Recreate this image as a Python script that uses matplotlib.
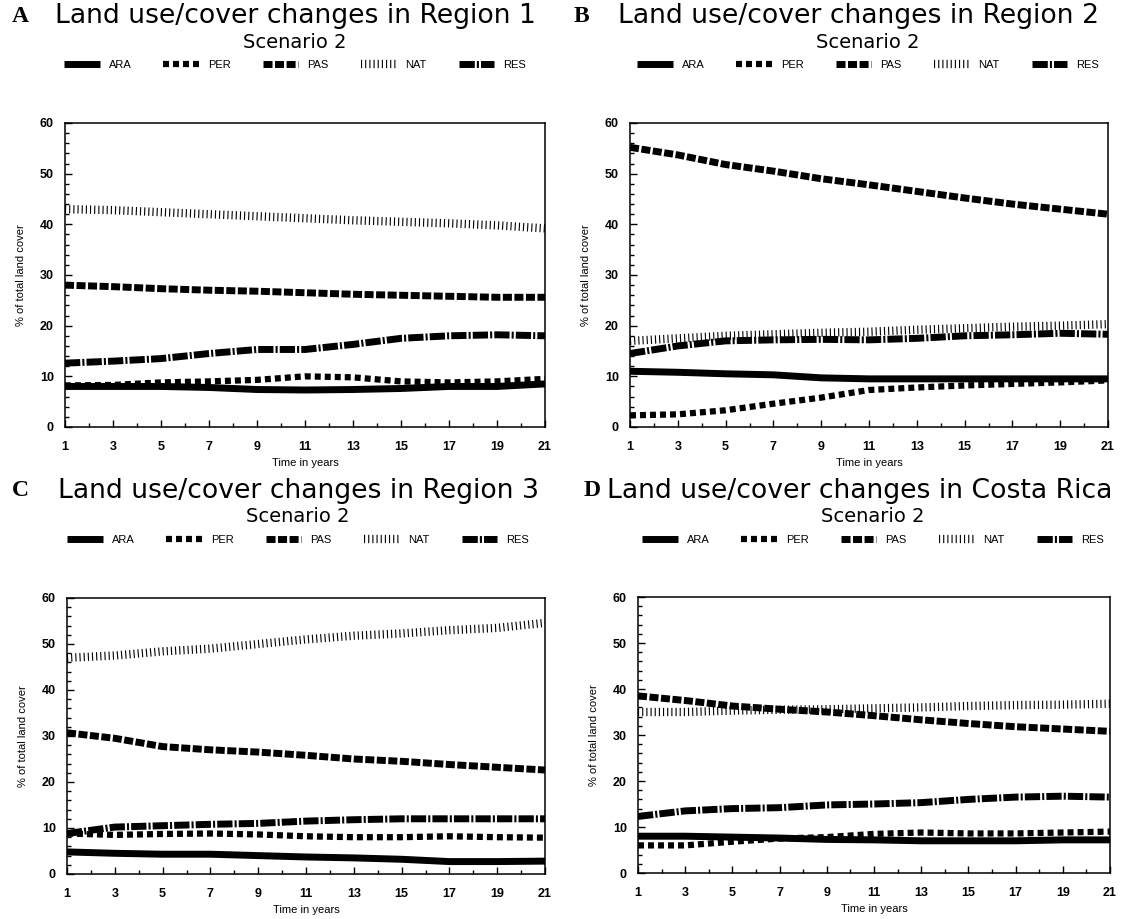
import numpy as np
import matplotlib
matplotlib.use("Agg")
import matplotlib.pyplot as plt
from matplotlib.ticker import MultipleLocator

plt.rcParams['font.family'] = ['Liberation Sans', 'DejaVu Sans']
plt.rcParams['lines.scale_dashes'] = False

years = [1, 3, 5, 7, 9, 11, 13, 15, 17, 19, 21]
categories = ['ARA', 'PER', 'PAS', 'NAT', 'RES']

# panel A - Region 1
r1_ara = [8.0, 8.0, 8.0, 7.8, 7.4, 7.3, 7.4, 7.6, 8.0, 8.0, 8.5]
r1_per = [8.2, 8.3, 8.8, 9.0, 9.3, 10.0, 9.8, 9.0, 8.8, 9.0, 9.5]
r1_pas = [28.0, 27.7, 27.3, 27.0, 26.8, 26.5, 26.2, 26.0, 25.8, 25.6, 25.6]
r1_nat = [43.0, 42.8, 42.4, 42.0, 41.6, 41.2, 40.8, 40.5, 40.2, 39.8, 39.2]
r1_res = [12.6, 13.0, 13.5, 14.5, 15.3, 15.3, 16.3, 17.5, 18.0, 18.2, 18.0]

# panel B - Region 2
r2_ara = [11.0, 10.8, 10.5, 10.3, 9.7, 9.5, 9.5, 9.5, 9.5, 9.5, 9.5]
r2_per = [2.3, 2.5, 3.3, 4.6, 5.8, 7.3, 7.8, 8.2, 8.5, 8.8, 9.2]
r2_pas = [55.2, 53.7, 51.8, 50.5, 49.0, 47.8, 46.5, 45.2, 44.0, 43.0, 42.0]
r2_nat = [17.0, 17.5, 18.0, 18.3, 18.6, 18.8, 19.2, 19.5, 19.8, 20.0, 20.3]
r2_res = [14.5, 16.0, 17.0, 17.2, 17.3, 17.2, 17.5, 18.0, 18.2, 18.5, 18.3]

# panel C - Region 3
r3_ara = [4.8, 4.5, 4.3, 4.3, 4.0, 3.7, 3.5, 3.2, 2.7, 2.7, 2.8]
r3_per = [8.8, 8.5, 8.7, 8.8, 8.6, 8.2, 8.0, 8.0, 8.2, 8.0, 7.9]
r3_pas = [30.7, 29.5, 27.7, 27.0, 26.5, 25.8, 25.0, 24.5, 23.8, 23.2, 22.6]
r3_nat = [47.0, 47.5, 48.4, 49.0, 50.0, 51.0, 51.8, 52.3, 53.0, 53.5, 54.6]
r3_res = [8.8, 10.2, 10.5, 10.8, 11.0, 11.5, 11.8, 12.0, 12.0, 12.0, 12.0]

# panel D - Costa Rica
cr_ara = [8.0, 8.0, 7.8, 7.6, 7.3, 7.2, 7.0, 7.0, 7.0, 7.2, 7.2]
cr_per = [6.0, 6.0, 6.8, 7.5, 7.8, 8.5, 8.8, 8.6, 8.6, 8.8, 9.0]
cr_pas = [38.5, 37.5, 36.3, 35.6, 35.0, 34.2, 33.3, 32.5, 31.8, 31.3, 30.8]
cr_nat = [35.0, 35.0, 35.3, 35.5, 35.6, 35.8, 36.0, 36.3, 36.5, 36.6, 36.8]
cr_res = [12.3, 13.5, 14.0, 14.2, 14.8, 15.0, 15.3, 16.0, 16.5, 16.7, 16.5]

styles = {
    'ARA': dict(lw=5.0, ls='-'),
    'PER': dict(lw=4.5, ls=(0, (4.3, 2.9))),
    'PAS': dict(lw=5.0, ls=(0, (6.5, 1.8))),
    'NAT': dict(lw=6.0, ls=(0, (0.8, 2.2))),
    'RES': dict(lw=5.0, ls=(0, (11, 1.5, 1.5, 1.5))),
}

W, H = 1128, 919
fig = plt.figure(figsize=(W / 100, H / 100), dpi=100)

def fx(px):
    return px / W

def fy(py):
    return 1 - py / H

def draw_panel(box, series, letter, title, letter_x, title_x, center_x, top):
    left, right, ytop, ybot = box
    ax = fig.add_axes([fx(left), fy(ybot), fx(right - left), (ybot - ytop) / H])
    for name, vals in zip(categories, series):
        st = styles[name]
        ax.plot(years, vals, color='black', lw=st['lw'], linestyle=st['ls'],
                solid_capstyle='butt', dash_capstyle='butt', label=name)
    ax.set_xlim(1, 21)
    ax.set_ylim(0, 60)
    ax.set_xticks(years)
    ax.xaxis.set_minor_locator(MultipleLocator(1))
    ax.yaxis.set_major_locator(MultipleLocator(10))
    ax.yaxis.set_minor_locator(MultipleLocator(2))
    ax.tick_params(which='both', direction='in', top=False, right=False, width=1)
    ax.tick_params(which='major', length=5, labelsize=9, pad=8)
    ax.tick_params(axis='x', which='major', pad=10)
    ax.tick_params(which='minor', length=3)
    for lab in ax.get_xticklabels() + ax.get_yticklabels():
        lab.set_fontweight('bold')
    for sp in ax.spines.values():
        sp.set_linewidth(1.1)
    ax.set_xlabel('Time in years', fontsize=8, labelpad=4)
    ax.set_ylabel('% of total land cover', fontsize=8, labelpad=10)

    fig.text(fx(letter_x), fy(top), letter, family='Liberation Serif',
             fontweight='bold', fontsize=17, va='center', ha='left')
    fig.text(fx(title_x), fy(top), title, family='DejaVu Sans', fontsize=19.2,
             va='center', ha='left')
    fig.text(fx(center_x), fy(top + 26), 'Scenario 2', family='DejaVu Sans',
             fontsize=14, va='center', ha='center')
    fig.legend(*ax.get_legend_handles_labels(), loc='center',
               bbox_to_anchor=(fx(center_x), fy(top + 49)), ncol=5,
               frameon=False, fontsize=8, handlelength=3.2,
               handletextpad=0.8, columnspacing=2.9)
    return ax

draw_panel((65, 545, 123, 427), [r1_ara, r1_per, r1_pas, r1_nat, r1_res],
           'A', 'Land use/cover changes in Region 1', 12, 55, 295, 16)
draw_panel((630, 1108, 123, 427), [r2_ara, r2_per, r2_pas, r2_nat, r2_res],
           'B', 'Land use/cover changes in Region 2', 574, 618, 868, 16)
draw_panel((67, 545, 598, 874), [r3_ara, r3_per, r3_pas, r3_nat, r3_res],
           'C', 'Land use/cover changes in Region 3', 12, 58, 298, 491)
draw_panel((638, 1110, 597, 873), [cr_ara, cr_per, cr_pas, cr_nat, cr_res],
           'D', 'Land use/cover changes in Costa Rica', 584, 607, 873, 491)

fig.savefig('out.png', dpi=100)
